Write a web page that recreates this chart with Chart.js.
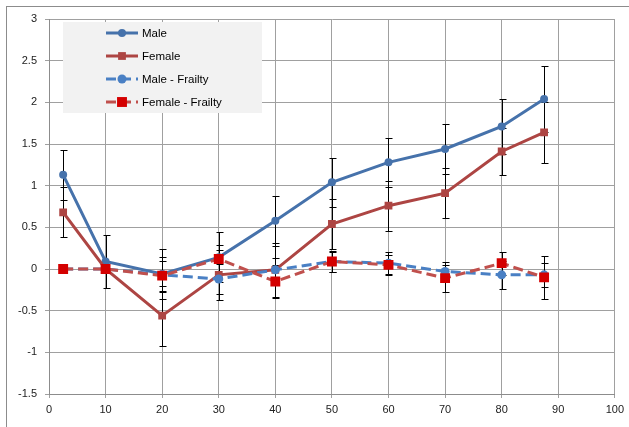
<!DOCTYPE html>
<html>
<head>
<meta charset="utf-8">
<script src="https://cdn.jsdelivr.net/npm/chart.js@4.4.1/dist/chart.umd.min.js"></script>
<style>
  html, body { margin: 0; padding: 0; background: #fff; }
  #wrap { position: relative; width: 629px; height: 427px; }
</style>
</head>
<body>
<div id="wrap"><canvas id="chart" width="629" height="427"></canvas></div>
<script>
// ages (x positions of the points)
const ages = [2.5, 10, 20, 30, 40, 50, 60, 70, 80, 87.5];

const seriesNames = ['Male', 'Female', 'Male - Frailty', 'Female - Frailty'];

const male          = [1.13, 0.09, -0.06, 0.14, 0.58, 1.04, 1.28, 1.44, 1.71, 2.04];
const maleErr       = [0.30, 0.32, 0.30, 0.30, 0.30, 0.29, 0.29, 0.30, 0.33, 0.40];
const female        = [0.68, 0.00, -0.56, -0.07, -0.01, 0.54, 0.76, 0.91, 1.41, 1.64];
const femaleErr     = [0.30, 0.00, 0.36, 0.30, 0.32, 0.30, 0.30, 0.30, 0.28, 0.37];
const maleFrailty   = [0.00, 0.00, -0.07, -0.12, -0.01, 0.09, 0.07, -0.03, -0.07, -0.07];
const maleFrailErr  = [0.00, 0.00, 0.21, 0.18, 0.14, 0.13, 0.13, 0.12, 0.17, 0.14];
const femFrailty    = [0.00, 0.00, -0.08, 0.12, -0.15, 0.09, 0.05, -0.11, 0.07, -0.10];
const femFrailErr   = [0.00, 0.00, 0.18, 0.17, 0.20, 0.12, 0.12, 0.16, 0.14, 0.26];

const xTicks = { min: 0, max: 100, step: 10 };
const yTicks = { min: -1.5, max: 3, step: 0.5 };

const toPoints = (ys) => ys.map((y, i) => ({ x: ages[i], y: y }));

const errorSets = [maleErr, femaleErr, maleFrailErr, femFrailErr];

// black error bars with caps
const errorBars = {
  id: 'errorBars',
  beforeDatasetsDraw(chart) {
    const { ctx, scales: { x, y } } = chart;
    ctx.save();
    ctx.strokeStyle = '#000';
    ctx.lineWidth = 1;
    chart.data.datasets.forEach((ds, d) => {
      const errs = errorSets[d];
      ds.data.forEach((p, i) => {
        const e = errs[i];
        if (!e) return;
        const px = Math.round(x.getPixelForValue(p.x)) + 0.5;
        const top = Math.round(y.getPixelForValue(p.y + e)) + 0.5;
        const bot = Math.round(y.getPixelForValue(p.y - e)) + 0.5;
        ctx.beginPath();
        ctx.moveTo(px, top); ctx.lineTo(px, bot);
        ctx.moveTo(px - 3, top); ctx.lineTo(px + 4, top);
        ctx.moveTo(px - 3, bot); ctx.lineTo(px + 4, bot);
        ctx.stroke();
      });
    });
    ctx.restore();
  }
};

// chart frame + legend box like the spreadsheet
const frameAndLegend = {
  id: 'frameAndLegend',
  beforeDraw(chart) {
    const ctx = chart.ctx;
    ctx.save();
    ctx.fillStyle = '#fff';
    ctx.fillRect(0, 0, chart.width, chart.height);
    ctx.strokeStyle = '#8c8c8c';
    ctx.lineWidth = 1;
    ctx.strokeRect(6.5, 6.5, 2000, 2000);
    ctx.restore();
  },
  afterDraw(chart) {
    const ctx = chart.ctx;
    ctx.save();
    ctx.fillStyle = '#f2f2f2';
    ctx.fillRect(63, 22, 199, 91);
    chart.data.datasets.forEach((ds, i) => {
      const cy = 33 + i * 23;
      ctx.strokeStyle = ds.borderColor;
      ctx.lineWidth = 3;
      ctx.setLineDash(ds.borderDash || []);
      ctx.beginPath();
      ctx.moveTo(106, cy); ctx.lineTo(138, cy);
      ctx.stroke();
      ctx.setLineDash([]);
      ctx.fillStyle = ds.pointBackgroundColor;
      if (ds.pointStyle === 'rect') {
        const s = ds.pointRadius * Math.SQRT1_2;
        ctx.fillRect(122 - s, cy - s, 2 * s, 2 * s);
      } else {
        ctx.beginPath();
        ctx.arc(122, cy, ds.pointRadius, 0, Math.PI * 2);
        ctx.fill();
      }
      ctx.fillStyle = '#000';
      ctx.font = '11.5px "Liberation Sans", Arial, sans-serif';
      ctx.textBaseline = 'middle';
      ctx.fillText(ds.label, 142, cy + 1);
    });
    ctx.restore();
  }
};

new Chart(document.getElementById('chart'), {
  type: 'line',
  data: {
    datasets: [
      {
        label: seriesNames[0], data: toPoints(male), order: 3,
        borderColor: '#4672ab', backgroundColor: '#4672ab', pointBackgroundColor: '#4672ab',
        borderWidth: 3, pointStyle: 'circle', pointRadius: 4, pointBorderWidth: 0
      },
      {
        label: seriesNames[1], data: toPoints(female), order: 2,
        borderColor: '#ad4543', backgroundColor: '#ad4543', pointBackgroundColor: '#ad4543',
        borderWidth: 3, pointStyle: 'rect', pointRadius: 5.5, pointBorderWidth: 0
      },
      {
        label: seriesNames[2], data: toPoints(maleFrailty), order: 1,
        borderColor: '#4a80c4', backgroundColor: '#4a80c4', pointBackgroundColor: '#4a80c4',
        borderWidth: 3, borderDash: [10, 5], pointStyle: 'circle', pointRadius: 4.5, pointBorderWidth: 0
      },
      {
        label: seriesNames[3], data: toPoints(femFrailty), order: 0,
        borderColor: '#c0504d', backgroundColor: '#d40000', pointBackgroundColor: '#d40000',
        borderWidth: 3, borderDash: [10, 5], pointStyle: 'rect', pointRadius: 7, pointBorderWidth: 0
      }
    ]
  },
  options: {
    responsive: false,
    animation: false,
    events: [],
    layout: { padding: { left: 0, top: 19, right: 13, bottom: 0 } },
    plugins: { legend: { display: false }, tooltip: { enabled: false } },
    scales: {
      x: {
        type: 'linear', min: xTicks.min, max: xTicks.max,
        afterFit: (s) => { s.height = 33; },
        grid: { color: '#a0a0a0', tickLength: 4 },
        border: { color: '#8c8c8c' },
        ticks: { stepSize: xTicks.step, color: '#222', padding: 5,
          font: { family: '"Liberation Sans", Arial, sans-serif', size: 11 } }
      },
      y: {
        type: 'linear', min: yTicks.min, max: yTicks.max,
        afterFit: (s) => { s.width = 49; },
        grid: { color: '#a0a0a0', tickLength: 4 },
        border: { color: '#8c8c8c' },
        ticks: { stepSize: yTicks.step, color: '#222', padding: 8,
          callback: (v) => String(Number(v.toFixed(1))),
          font: { family: '"Liberation Sans", Arial, sans-serif', size: 11 } }
      }
    }
  },
  plugins: [frameAndLegend, errorBars]
});
</script>
</body>
</html>
